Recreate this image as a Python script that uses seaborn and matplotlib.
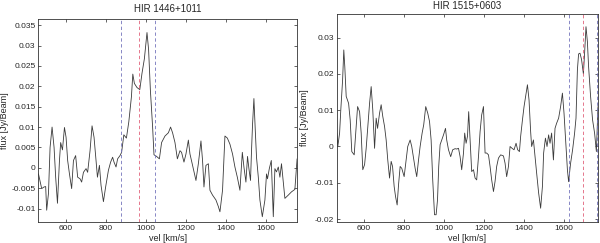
import matplotlib
matplotlib.use("Agg")
import matplotlib.pyplot as plt
import matplotlib.ticker as mticker
import numpy as np
import pandas as pd
import seaborn as sns

# --- HIR 1446+1011 spectrum ---
vel_1446 = [462, 478, 490, 498, 503, 512, 520, 530, 540, 548, 557, 567, 573, 582, 592,
            600, 608, 617, 628, 637, 648, 658, 670, 678, 687, 700, 708, 720, 730, 740,
            750, 757, 767, 775, 787, 798, 812, 823, 833, 840, 850, 858, 870, 878, 889,
            902, 914, 927, 934, 942, 955, 969, 980, 992, 1005, 1013, 1022, 1033, 1040,
            1053, 1067, 1078, 1095, 1112, 1123, 1133, 1145, 1157, 1170, 1178, 1190, 1200,
            1212, 1220, 1233, 1250, 1262, 1275, 1283, 1290, 1300, 1312, 1320, 1333, 1350,
            1362, 1370, 1383, 1395, 1407, 1420, 1433, 1445, 1457, 1470, 1482, 1490, 1500,
            1508, 1515, 1523, 1528, 1533, 1540, 1547, 1553, 1562, 1570, 1582, 1595, 1603,
            1608, 1617, 1627, 1637, 1645, 1653, 1662, 1670, 1678, 1687, 1695, 1712, 1728,
            1745, 1756]
flux_1446 = [-0.0015, -0.0051, -0.0047, -0.0046, -0.0104, -0.0063, 0.0050, 0.0100,
             0.0050, -0.0023, -0.0087, 0.0018, 0.0062, 0.0044, 0.0099, 0.0075, 0.0018,
             -0.0015, -0.0051, 0.0018, 0.0030, -0.0023, -0.0027, -0.0035, -0.0011,
             -0.0002, -0.0011, 0.0042, 0.0103, 0.0075, 0.0018, -0.0023, 0.0006, -0.0043,
             -0.0083, -0.0047, -0.0006, 0.0014, 0.0026, 0.0014, 0.0002, 0.0022, 0.0030,
             0.0038, 0.0081, 0.0073, 0.0113, 0.0174, 0.0230, 0.0207, 0.0197, 0.0192,
             0.0232, 0.0268, 0.0332, 0.0290, 0.0190, 0.0101, 0.0032, 0.0028, 0.0022,
             0.0062, 0.0078, 0.0086, 0.0100, 0.0086, 0.0062, 0.0022, 0.0042, 0.0038,
             0.0014, 0.0034, 0.0068, 0.0034, 0.0006, -0.0031, 0.0010, 0.0066, 0.0018,
             -0.0047, 0.0006, 0.0010, -0.0055, -0.0067, -0.0079, -0.0095, -0.0108,
             -0.0055, 0.0078, 0.0073, 0.0058, 0.0034, 0.0002, -0.0023, -0.0055, 0.0038,
             0.0002, -0.0035, 0.0028, -0.0002, -0.0031, 0.0042, 0.0105, 0.0170, 0.0090,
             0.0026, -0.0023, -0.0079, -0.0120, -0.0079, -0.0015, -0.0027, -0.0002,
             0.0018, -0.0120, -0.0002, -0.0010, 0.0002, -0.0023, 0.0010, -0.0035,
             -0.0075, -0.0067, -0.0059, -0.0053, 0.0022]

# --- HIR 1515+0603 spectrum ---
vel_1515 = [463, 468, 477, 483, 492, 498, 503, 510, 522, 530, 538, 550, 560, 567, 577,
            585, 593, 602, 610, 618, 627, 635, 643, 652, 660, 667, 677, 685, 693, 702,
            710, 718, 727, 735, 742, 750, 757, 765, 772, 780, 788, 800, 810, 818, 830,
            838, 847, 855, 863, 872, 880, 890, 898, 908, 918, 927, 935, 943, 952, 960,
            967, 973, 980, 988, 997, 1007, 1013, 1022, 1033, 1043, 1055, 1063, 1072,
            1080, 1088, 1097, 1103, 1110, 1117, 1123, 1130, 1138, 1147, 1155, 1163, 1172,
            1180, 1188, 1197, 1205, 1213, 1222, 1230, 1238, 1247, 1255, 1263, 1272, 1283,
            1297, 1305, 1313, 1322, 1330, 1340, 1350, 1360, 1368, 1377, 1383, 1392, 1400,
            1408, 1417, 1425, 1433, 1438, 1447, 1455, 1463, 1473, 1483, 1492, 1498, 1507,
            1515, 1523, 1530, 1538, 1547, 1555, 1563, 1573, 1583, 1592, 1600, 1608, 1617,
            1623, 1633, 1643, 1653, 1660, 1667, 1673, 1680, 1688, 1697, 1703, 1710, 1717,
            1723, 1733, 1743, 1753, 1762, 1770]
flux_1515 = [0.0037, 0.0000, 0.0037, 0.0101, 0.0183, 0.0266, 0.0220, 0.0138, 0.0119,
             0.0073, -0.0014, -0.0023, 0.0055, 0.0110, 0.0096, 0.0037, -0.0064, -0.0050,
             -0.0005, 0.0055, 0.0119, 0.0165, 0.0101, -0.0005, 0.0078, 0.0050, 0.0092,
             0.0115, 0.0083, 0.0055, 0.0018, -0.0037, -0.0087, -0.0041, -0.0055, -0.0110,
             -0.0138, -0.0161, -0.0105, -0.0055, -0.0060, -0.0083, -0.0037, 0.0000,
             0.0018, 0.0000, -0.0032, -0.0060, -0.0083, -0.0037, 0.0000, 0.0037, 0.0060,
             0.0110, 0.0092, 0.0069, 0.0018, -0.0092, -0.0188, -0.0188, -0.0147, -0.0055,
             0.0005, 0.0018, 0.0032, 0.0050, 0.0018, -0.0009, -0.0028, -0.0009, -0.0006,
             -0.0007, -0.0005, -0.0028, -0.0064, -0.0018, 0.0037, 0.0009, 0.0028, 0.0096,
             0.0018, -0.0069, -0.0064, -0.0087, -0.0092, -0.0028, 0.0041, 0.0087, 0.0110,
             -0.0018, -0.0018, -0.0023, -0.0055, -0.0092, -0.0124, -0.0096, -0.0055,
             -0.0032, -0.0023, -0.0026, -0.0046, -0.0083, -0.0055, 0.0000, -0.0005,
             -0.0009, 0.0009, -0.0009, -0.0014, 0.0028, 0.0073, 0.0110, 0.0138, 0.0170,
             0.0128, 0.0041, 0.0000, 0.0018, -0.0028, -0.0073, -0.0128, -0.0170, -0.0110,
             -0.0018, 0.0023, 0.0000, 0.0032, 0.0009, 0.0037, -0.0037, 0.0050, 0.0064,
             0.0078, 0.0110, 0.0147, 0.0092, 0.0018, -0.0064, -0.0097, -0.0046, -0.0009,
             0.0037, 0.0078, 0.0211, 0.0255, 0.0257, 0.0239, 0.0200, 0.0257, 0.0330,
             0.0289, 0.0220, 0.0138, 0.0073, 0.0037, -0.0014, 0.0110]

lines_1446 = [877, 967, 1047]
lines_1515 = [1626, 1696, 1763]

panels = [
    dict(title="HIR 1446+1011", vel=vel_1446, flux=flux_1446, lines=lines_1446,
         xlim=(461, 1758), ylim=(-0.0133, 0.0365),
         yticks=np.arange(-0.01, 0.0351, 0.005),
         pos=[0.0638, 0.0864, 0.432, 0.835], ylab_x=-0.112, title_y=1.05),
    dict(title="HIR 1515+0603", vel=vel_1515, flux=flux_1515, lines=lines_1515,
         xlim=(462, 1772), ylim=(-0.0208, 0.0365),
         yticks=np.arange(-0.02, 0.031, 0.01),
         pos=[0.561, 0.0864, 0.4363, 0.856], ylab_x=-0.104, title_y=1.04),
]

sns.set_style("ticks")
plt.rcParams["font.family"] = ["Liberation Sans", "DejaVu Sans"]
plt.rcParams["axes.unicode_minus"] = False
plt.rcParams["xtick.direction"] = "in"
plt.rcParams["ytick.direction"] = "in"

fig = plt.figure(figsize=(6.0, 2.43), dpi=100)

for p in panels:
    ax = fig.add_axes(p["pos"])
    df = pd.DataFrame({"vel": p["vel"], "flux": p["flux"]})
    sns.lineplot(data=df, x="vel", y="flux", ax=ax, color="#3a3a3a", linewidth=0.6)

    # velocity range markers
    for i, v in enumerate(p["lines"]):
        c = "#e0607a" if i == 1 else "#7474bc"
        ax.axvline(v, color=c, linestyle=(0, (4, 3)), linewidth=0.6)

    ax.set_xlim(p["xlim"])
    ax.set_ylim(p["ylim"])
    ax.set_xticks(range(600, 1601, 200))
    ax.set_yticks(p["yticks"])
    ax.yaxis.set_major_formatter(mticker.FuncFormatter(
        lambda v, pos: ("%.3f" % v).rstrip("0").rstrip(".") if abs(v) > 1e-9 else "0"))
    ax.tick_params(labelsize=6, length=2.5, width=0.5, top=True, right=True, pad=2)
    for s in ax.spines.values():
        s.set_linewidth(0.6)
        s.set_color("#333333")

    ax.set_xlabel("vel [km/s]", fontsize=6.5, labelpad=0)
    ax.set_ylabel("flux [Jy/Beam]", fontsize=6.5)
    ax.yaxis.set_label_coords(p["ylab_x"], 0.5)
    ax.xaxis.set_label_coords(0.5, -0.058)
    ax.text(0.5, p["title_y"], p["title"], transform=ax.transAxes,
            ha="center", va="center", fontsize=7)

fig.savefig("out.png", dpi=100)
